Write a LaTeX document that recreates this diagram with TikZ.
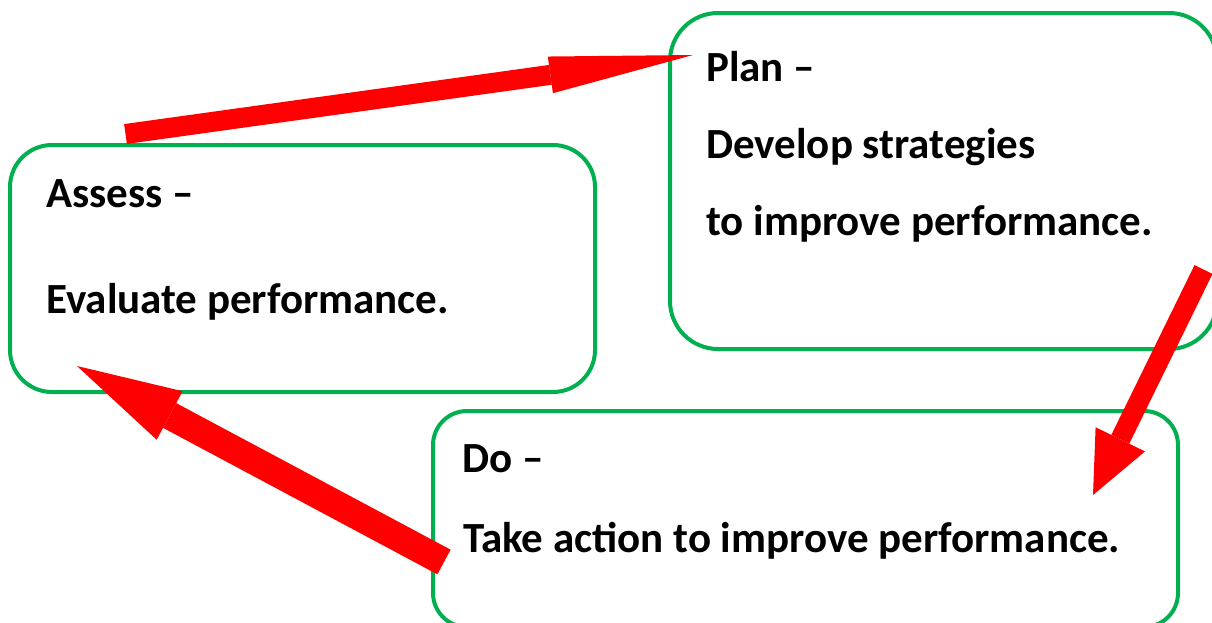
\documentclass[tikz,border=0pt]{standalone}
\usepackage{fontspec}
\setmainfont{Carlito}
\usepackage{xcolor}
\usetikzlibrary{arrows.meta, positioning}

\definecolor{boxgreen}{HTML}{00B050}
\definecolor{flowred}{HTML}{FF0000}

\begin{document}
\begin{tikzpicture}[
    x=1pt, y=-1pt,
    stage/.style={rectangle, draw=boxgreen, fill=white, line width=4pt, inner sep=0pt},
    stagetext/.style={anchor=base west, inner sep=0pt, font=\fontsize{43pt}{50pt}\selectfont\bfseries},
    flow/.style={draw=flowred, line cap=butt}
]

\useasboundingbox (0,0) rectangle (1212,622);

% Stage boxes
\node[stage, rounded corners=42pt, minimum width=585pt, minimum height=247pt] (assess) at (302.5,268.5) {};
\node[stage, rounded corners=48pt, minimum width=547pt, minimum height=336pt] (plan) at (943.5,181) {};
\node[stage, rounded corners=34pt, minimum width=745pt, minimum height=216pt] (do) at (805.5,519) {};

% Stage texts
\node[stagetext] (assesstitle) at (46,207) {Assess –};
\node[stagetext] (assessdesc) at (46,313) {Evaluate performance.};
\node[stagetext] (plantitle) at (706,81) {Plan –};
\node[stagetext] (plandesca) at (706,158) {Develop strategies};
\node[stagetext] (plandescb) at (706,235) {to improve performance.};
\node[stagetext] (dotitle) at (462,472) {Do –};
\node[stagetext] (dodesc) at (463,552) {Take action to improve performance.};

% Arrow ends
\coordinate (assessout) at (125.5,134);
\coordinate (planin) at (693,55);
\coordinate (planout) at (1203.5,269.5);
\coordinate (doin) at (1093,495);
\coordinate (doout) at (444,562);
\coordinate (assessin) at (77,366);

% Cycle arrows
\draw[flow, line width=20pt, -{Triangle[length=144pt, width=37pt, line width=0pt]}] (assessout) -- (planin);
\draw[flow, line width=20pt, -{Triangle[length=62pt, width=55pt, line width=0pt]}] (planout) -- (doin);
\draw[flow, line width=28pt, -{Triangle[length=105pt, width=55pt, line width=0pt]}] (doout) -- (assessin);

\end{tikzpicture}
\end{document}
